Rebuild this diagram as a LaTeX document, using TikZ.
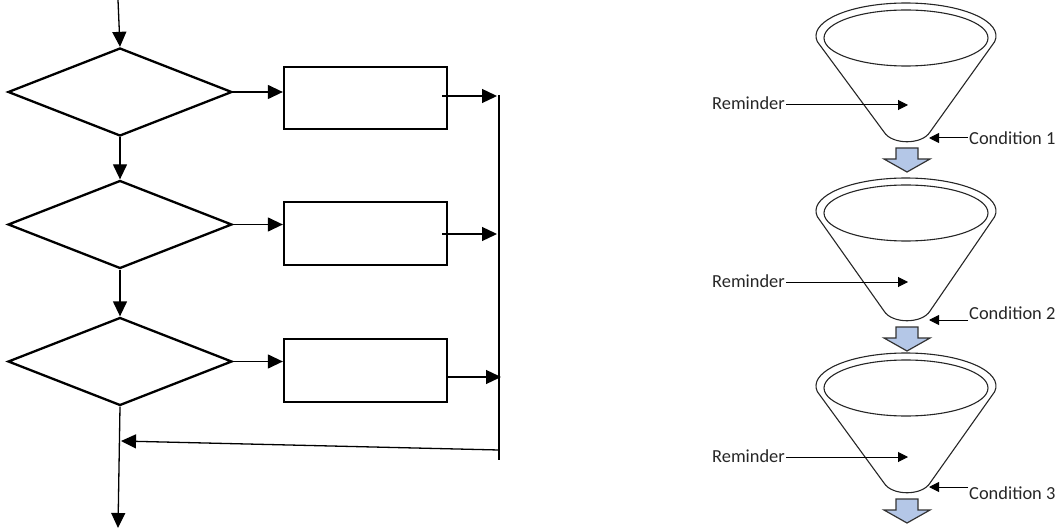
\documentclass[tikz,border=0pt]{standalone}
\usepackage{fontspec}
\setmainfont{Carlito}
\usetikzlibrary{shapes.geometric,arrows.meta,calc}
\definecolor{blockblue}{HTML}{B4C7E7}
\begin{document}
\begin{tikzpicture}[x=1pt,y=1pt,
  dec/.style={draw, diamond, line width=2.3pt, minimum width=224pt, minimum height=88pt, inner sep=0pt},
  proc/.style={draw, rectangle, line width=2.3pt, minimum width=163pt, minimum height=62pt, inner sep=0pt},
  flow/.style={line width=1.3pt, -{Triangle[length=15pt,width=14pt]}},
  plain/.style={line width=1.3pt},
  funnel/.style={line width=1.1pt, draw=black!85},
  lbl/.style={font=\fontsize{18.4}{22}\selectfont, text=black!85, inner sep=1pt},
  pointer/.style={line width=1pt, -{Triangle[length=10pt,width=10pt]}},
  block/.style={draw=black!80, line width=1.2pt, fill=blockblue, line join=miter}
]
\useasboundingbox (0,0) rectangle (1062,-529);

% ---- left flowchart ----
\node[dec] (d1) at (120,-92) {};
\node[dec] (d2) at (120,-224.5) {};
\node[dec] (d3) at (120,-361.5) {};
\node[proc] (b1) at (365.5,-98) {};
\node[proc, minimum height=63pt] (b2) at (365.5,-233.5) {};
\node[proc, minimum height=63pt] (b3) at (365.5,-370.5) {};

\coordinate (in) at (118,0);
\coordinate (out) at (118,-528);
\coordinate (busTop) at (499,-95);
\coordinate (busBot) at (499,-460);
\coordinate (s1) at (442,-96);
\coordinate (e1) at (497,-96);
\coordinate (s2) at (442,-234);
\coordinate (e2) at (497,-234);
\coordinate (e3) at (501,-377);
\coordinate (fbS) at (499,-450);
\coordinate (fbE) at (121,-441);

\draw[flow] (in) -- (d1.north);
\draw[flow] (d1.south) -- (d2.north);
\draw[flow] (d2.south) -- (d3.north);
\draw[flow] (d3.south) -- (out);
\draw[flow] (d1.east) -- (d1.east -| b1.west);
\draw[flow] (d2.east) -- (d2.east -| b2.west);
\draw[flow] (d3.east) -- (d3.east -| b3.west);
\draw[flow] (s1) -- (e1);
\draw[flow] (s2) -- (e2);
\draw[flow] (b3.east |- e3) -- (e3);
\draw[plain] (busTop) -- (busBot);
\draw[flow] (fbS) -- (fbE);

% ---- right funnels ----
\foreach \fT/\fB/\rY/\rT/\cY/\cT/\n in {3/142/105/103/138/138/1, 178/321/282/281/320/313/2, 353/493/457/456/487/493/3} {
  \draw[funnel] (906,-\fT-33) ++(190:90pt and 33pt)
     arc[start angle=190, end angle=-10, x radius=90pt, y radius=33pt]
     -- (930,-\fB+10) .. controls (922,-\fB-3) and (892,-\fB-3) .. (884,-\fB+10) -- cycle;
  \draw[funnel] (906,-\fT-35) ellipse[x radius=82pt, y radius=28pt];
  \node[lbl, anchor=east] (rem\n) at (786,-\rT) {Reminder};
  \coordinate (remTip\n) at (908,-\rY);
  \draw[pointer] (rem\n.east |- remTip\n) -- (remTip\n);
  \node[lbl, anchor=west] (cond\n) at (968,-\cT) {Condition \n};
  \coordinate (condTip\n) at (929,-\cY);
  \draw[pointer] (cond\n.west |- condTip\n) -- (condTip\n);
  \draw[block] (896,-\fB-6) -- (918,-\fB-6) -- (918,-\fB-17) -- (930,-\fB-17)
     -- (907,-\fB-30) -- (884,-\fB-17) -- (896,-\fB-17) -- cycle;
}
\end{tikzpicture}
\end{document}
